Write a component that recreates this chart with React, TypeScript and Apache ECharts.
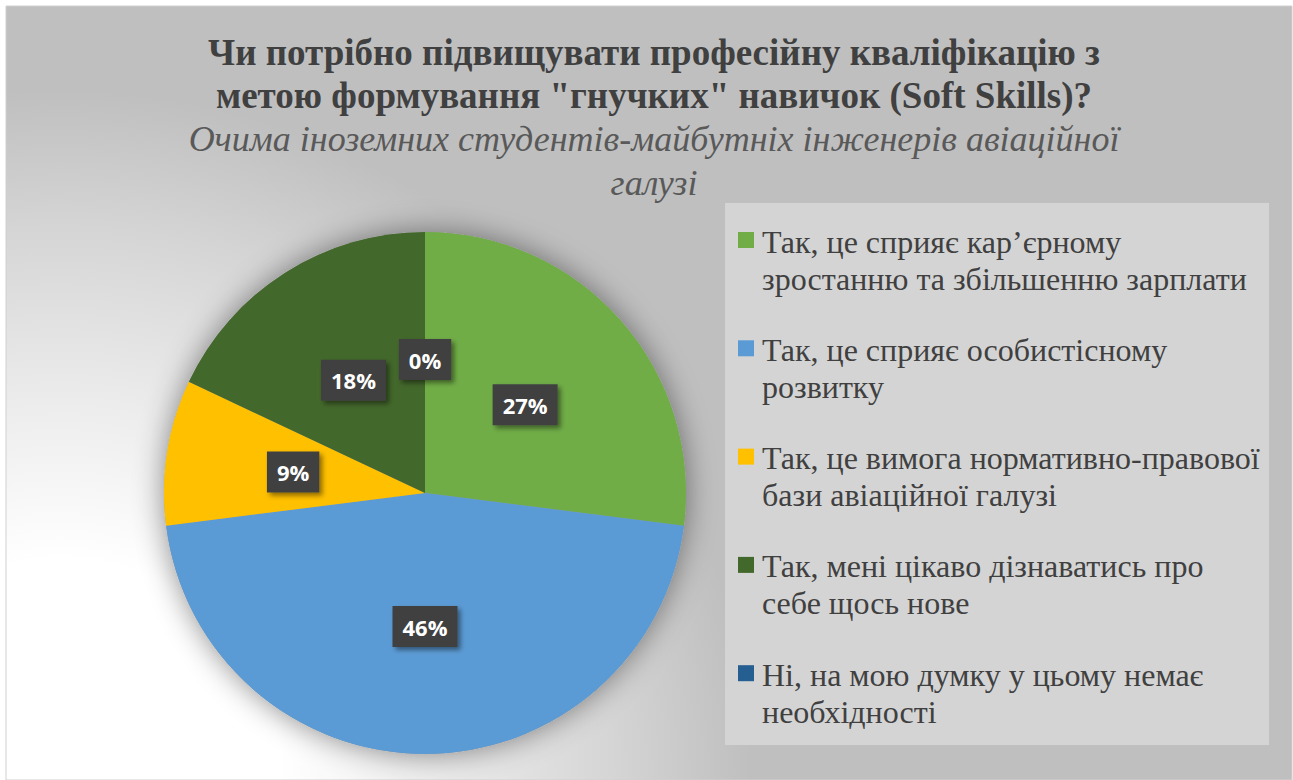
import React, { useEffect, useRef } from "react";
import * as echarts from "echarts";

const categories = [
  "Так, це сприяє кар’єрному\nзростанню та збільшенню зарплати",
  "Так, це сприяє особистісному\nрозвитку",
  "Так, це вимога нормативно-правової\nбази авіаційної галузі",
  "Так, мені цікаво дізнаватись про\nсебе щось нове",
  "Ні, на мою думку у цьому немає\nнеобхідності",
];
const values = [27, 46, 9, 18, 0];
const colors = ["#70ad47", "#5b9bd5", "#ffc000", "#43682b", "#255e91"];
const titleText =
  "Чи потрібно підвищувати професійну кваліфікацію з\nметою формування \"гнучких\" навичок (Soft Skills)?";
const subtitleText =
  "Очима іноземних студентів-майбутніх інженерів авіаційної\nгалузі";

const SERIF = "'Liberation Serif', 'Times New Roman', serif";

export default function App() {
  const ref = useRef<HTMLDivElement>(null);
  useEffect(() => {
    document.body.style.margin = "0";
    if (!ref.current) return;
    const chart = echarts.init(ref.current, undefined, { renderer: "svg" });
    const total = values.reduce((a, b) => a + b, 0);
    const legendTop = 232;
    const legendPitch = 108.3;
    const legendItems: any[] = [];
    categories.forEach((c, i) => {
      const y = legendTop + i * legendPitch;
      legendItems.push({
        type: "rect",
        shape: { x: 738, y, width: 16, height: 16 },
        style: { fill: colors[i] },
        z: 5,
      });
      legendItems.push({
        type: "text",
        x: 762,
        y: y - 9,
        style: {
          text: c,
          fontFamily: SERIF,
          fontSize: 32,
          lineHeight: 37,
          fill: "#404040",
          verticalAlign: "top",
          align: "left",
        },
        z: 5,
      });
    });
    chart.setOption({
      animation: false,
      title: {
        text: titleText,
        subtext: subtitleText,
        left: 649,
        top: 26,
        textAlign: "center",
        itemGap: 0,
        textStyle: {
          fontFamily: SERIF,
          fontSize: 37,
          fontWeight: "bold",
          color: "#404040",
          lineHeight: 43,
        },
        subtextStyle: {
          fontFamily: SERIF,
          fontSize: 36,
          fontStyle: "italic",
          color: "#595959",
          lineHeight: 44,
        },
      },
      graphic: [
        {
          type: "rect",
          shape: { x: 6, y: 6, width: 1286, height: 774 },
          style: {
            fill: {
              type: "radial",
              x: 60,
              y: 780,
              r: 690,
              global: true,
              colorStops: [
                { offset: 0, color: "#ffffff" },
                { offset: 0.32, color: "#ffffff" },
                { offset: 0.55, color: "#ececec" },
                { offset: 0.8, color: "#d5d5d5" },
                { offset: 1, color: "#bfbfbf" },
              ],
            },
            stroke: "#d0d0d0",
            lineWidth: 1,
          },
          z: -10,
        },
        {
          type: "rect",
          shape: { x: 725, y: 203, width: 544, height: 542 },
          style: { fill: "#d4d4d4" },
          z: 4,
        },
        ...legendItems,
      ],
      series: [
        {
          type: "pie",
          center: [425, 493],
          radius: 261,
          silent: true,
          z: 1,
          label: { show: false },
          labelLine: { show: false },
          data: [
            {
              value: total,
              itemStyle: {
                color: "#9a9a9a",
                shadowBlur: 30,
                shadowColor: "rgba(0,0,0,0.45)",
              },
            },
          ],
        },
        {
          type: "pie",
          center: [425, 493],
          radius: 261,
          startAngle: 90,
          clockwise: true,
          z: 3,
          emphasis: { disabled: true },
          labelLine: { show: false },
          label: {
            show: true,
            position: "inside",
            formatter: "{c}%",
            fontFamily: "'Open Sans', sans-serif",
            fontWeight: "bold",
            fontSize: 22,
            color: "#ffffff",
            backgroundColor: "#404040",
            padding: [10, 10, 9, 10],
            shadowBlur: 5,
            shadowOffsetX: 3,
            shadowOffsetY: 3,
            shadowColor: "rgba(0,0,0,0.45)",
          },
          data: values.map((v, i) => ({
            name: categories[i],
            value: v,
            itemStyle: { color: colors[i] },
          })),
        },
      ],
    });
    return () => chart.dispose();
  }, []);
  return <div ref={ref} style={{ width: 1293, height: 780 }} />;
}
